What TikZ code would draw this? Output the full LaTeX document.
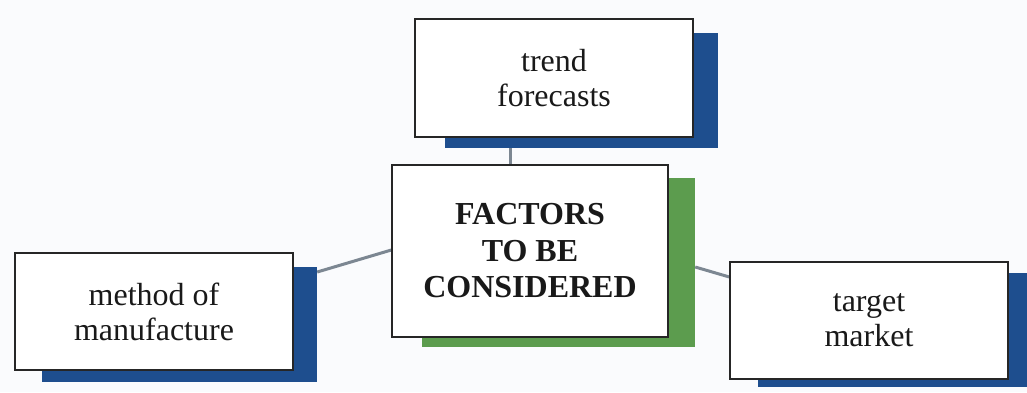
\documentclass[tikz,border=0pt]{standalone}
\usepackage{fontspec}
\setmainfont{Liberation Serif}
\usetikzlibrary{backgrounds}
\definecolor{shblue}{HTML}{1E4E8E}
\definecolor{shgreen}{HTML}{5C9C4E}
\definecolor{linkc}{HTML}{7C8792}
\definecolor{bgc}{HTML}{FAFBFD}
\tikzset{
  x=1pt, y=-1pt,
  box/.style={draw=black!85, line width=1.3pt, fill=white, align=center, inner sep=0pt,
    font=\fontsize{32}{35}\selectfont, text=black!90},
  cbox/.style={box, font=\fontsize{32}{36.5}\selectfont\bfseries},
  shade/.style={inner sep=0pt, draw=none},
  link/.style={draw=linkc, line width=3pt},
}
\begin{document}
\begin{tikzpicture}
\useasboundingbox (0,0) rectangle (1027,392);
% shadows
\node[shade, fill=shblue, minimum width=273pt, minimum height=115pt] (tsh) at (581.5,90.5) {};
\node[shade, fill=shgreen, minimum width=273pt, minimum height=169pt] (csh) at (558.5,262.5) {};
\node[shade, fill=shblue, minimum width=275pt, minimum height=115pt] (lsh) at (179.5,324.5) {};
\node[shade, fill=shblue, minimum width=275pt, minimum height=114pt] (rsh) at (895.5,330) {};
% boxes
\node[box, minimum width=278pt, minimum height=118pt] (trend) at (554,78) {trend\\forecasts};
\node[cbox, minimum width=276pt, minimum height=172pt] (center) at (530,251) {FACTORS\\TO BE\\CONSIDERED};
\node[box, minimum width=278pt, minimum height=117pt] (method) at (154,311.5) {method of\\manufacture};
\node[box, minimum width=278pt, minimum height=117pt] (target) at (869,320.5) {target\\market};
% connectors
\begin{pgfonlayer}{background}
\fill[bgc] (0,0) rectangle (1027,392);
\draw[link] (trend.south -| 510,0) -- (center.north -| 510,0);
\draw[link] (lsh.east |- 0,272) -- (center.west |- 0,250);
\draw[link] (csh.east |- 0,267) -- (target.west |- 0,277);
\end{pgfonlayer}
\end{tikzpicture}
\end{document}
